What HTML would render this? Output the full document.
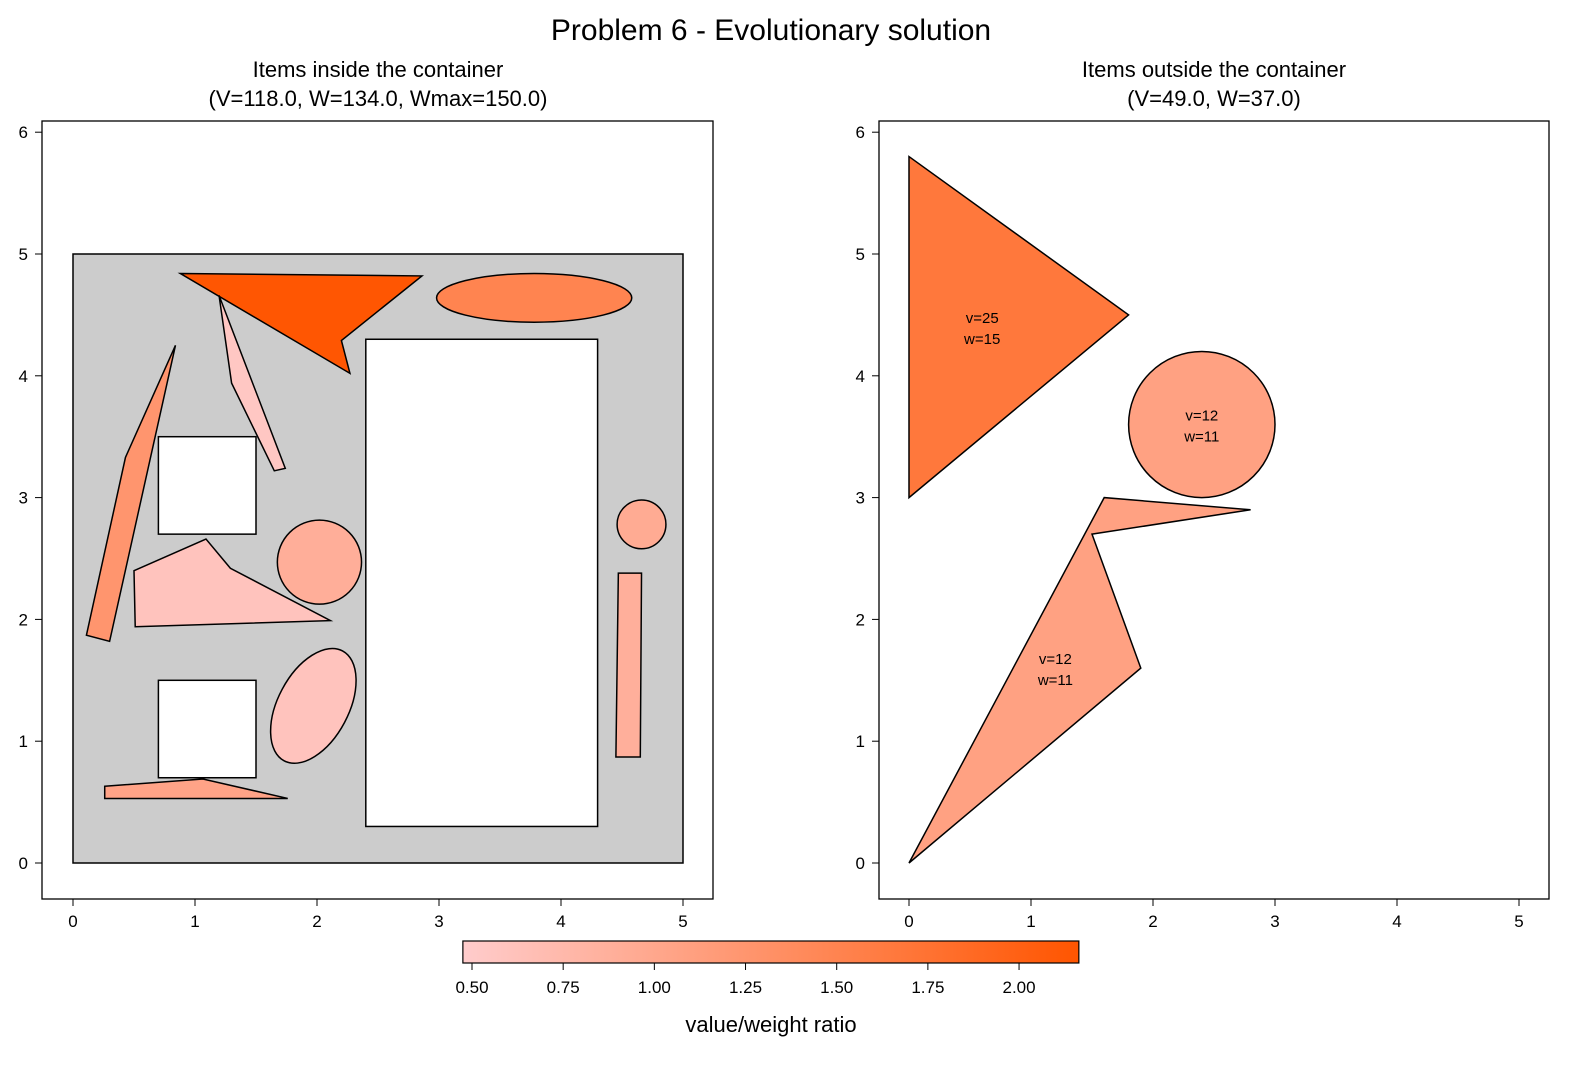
<!DOCTYPE html>
<html><head><meta charset="utf-8"><style>
body{margin:0;background:#fff;font-family:"Liberation Sans",sans-serif}
svg text{font-family:"Liberation Sans","DejaVu Sans",sans-serif;fill:#000}
</style></head><body>
<svg id="fig" width="1590" height="1067" xmlns="http://www.w3.org/2000/svg">
<text x="771" y="40" font-size="30" text-anchor="middle">Problem 6 - Evolutionary solution</text>
<text x="378" y="77" font-size="22" text-anchor="middle">Items inside the container</text>
<text x="378" y="106" font-size="22" text-anchor="middle">(V=118.0, W=134.0, Wmax=150.0)</text>
<text x="1214" y="77" font-size="22" text-anchor="middle">Items outside the container</text>
<text x="1214" y="106" font-size="22" text-anchor="middle">(V=49.0, W=37.0)</text>
<g id="L"></g>
<g id="R"></g>
<g id="CB"></g>
<text x="771" y="1032" font-size="22" text-anchor="middle">value/weight ratio</text>
</svg>
<script>
const ticks=[0,1,2,3,4,5,6];
const xticks=[0,1,2,3,4,5];
const cbTicks=[0.5,0.75,1.0,1.25,1.5,1.75,2.0];
const cbMin=0.475, cbMax=2.164;
const holes=[[0.7,2.7,0.8,0.8],[0.7,0.7,0.8,0.8],[2.4,0.3,1.9,4.0]];
const leftPolys=[
 {pts:[[0.88,4.84],[2.86,4.82],[2.2,4.29],[2.27,4.02]],r:2.15},
 {pts:[[1.197,4.66],[1.30,3.94],[1.65,3.22],[1.74,3.24]],r:0.55},
 {pts:[[0.84,4.25],[0.43,3.33],[0.11,1.87],[0.30,1.82]],r:1.25},
 {pts:[[0.5,2.4],[1.09,2.66],[1.29,2.42],[2.11,1.99],[0.51,1.94]],r:0.6},
 {pts:[[4.47,2.38],[4.66,2.38],[4.65,0.87],[4.45,0.87]],r:0.88},
 {pts:[[0.26,0.63],[1.065,0.69],[1.76,0.53],[0.26,0.53]],r:1.05}
];
const leftEll=[
 {cx:3.78,cy:4.64,rx:0.8,ry:0.2,rot:0,r:1.5},
 {cx:2.02,cy:2.47,rx:0.345,ry:0.345,rot:0,r:0.9},
 {cx:4.66,cy:2.78,rx:0.2,ry:0.2,rot:0,r:0.95},
 {cx:1.97,cy:1.29,rx:0.51,ry:0.29,rot:-62,r:0.6}
];
const rightPolys=[
 {pts:[[0,5.8],[1.8,4.5],[0,3.0]],r:25/15,lab:["v=25","w=15"],lx:0.6,ly:4.4},
 {pts:[[0,0],[1.6,3.0],[2.8,2.9],[1.5,2.7],[1.9,1.6]],r:12/11,lab:["v=12","w=11"],lx:1.2,ly:1.6}
];
const rightEll=[{cx:2.4,cy:3.6,rx:0.6,ry:0.6,rot:0,r:12/11,lab:["v=12","w=11"]}];

const NS="http://www.w3.org/2000/svg";
function mk(p,t,a){const e=document.createElementNS(NS,t);for(const k in a)e.setAttribute(k,a[k]);p.appendChild(e);return e;}
function col(r){let t=(r-cbMin)/(cbMax-cbMin);t=Math.max(0,Math.min(1,t));
 return `rgb(255,${Math.round(204-119*t)},${Math.round(204-204*t)})`;}
function axes(g,x0,box,name){
 const X=v=>x0+122*v, Y=v=>863-121.8*v;
 mk(g,'rect',{x:box[0],y:121,width:box[1]-box[0],height:778,fill:'#fff',stroke:'#000','stroke-width':1.3});
 xticks.forEach(v=>{const l=mk(g,'line',{x1:X(v),x2:X(v),y1:899,y2:906,stroke:'#000'});
  
  const t=mk(g,'text',{x:X(v),y:927,'font-size':17,'text-anchor':'middle'});t.textContent=v;
  });
 ticks.forEach(v=>{mk(g,'line',{x1:box[0]-7,x2:box[0],y1:Y(v),y2:Y(v),stroke:'#000'});
  const t=mk(g,'text',{x:box[0]-14,y:Y(v)+6,'font-size':17,'text-anchor':'end'});t.textContent=v;
  });
 return [X,Y];
}
function poly(g,X,Y,p){const e=mk(g,'polygon',{points:p.pts.map(q=>X(q[0])+','+Y(q[1])).join(' '),fill:col(p.r),stroke:'#000','stroke-width':1.5});
 }
function ell(g,X,Y,e){const el=mk(g,'ellipse',{cx:X(e.cx),cy:Y(e.cy),rx:122*e.rx,ry:121.8*e.ry,transform:`rotate(${e.rot} ${X(e.cx)} ${Y(e.cy)})`,fill:col(e.r),stroke:'#000','stroke-width':1.5});
 }
function lab(g,x,y,l){l.forEach((s,i)=>{const t=mk(g,'text',{x:x,y:y+i*21,'font-size':15,'text-anchor':'middle','font-family':'Liberation Serif'});t.textContent=s;
 });}

const L=document.getElementById('L');
let [X,Y]=axes(L,73,[42,713]);
const c=mk(L,'rect',{x:X(0),y:Y(5),width:122*5,height:121.8*5,fill:'#cccccc',stroke:'#000','stroke-width':1.5});

holes.forEach(h=>{const e=mk(L,'rect',{x:X(h[0]),y:Y(h[1]+h[3]),width:122*h[2],height:121.8*h[3],fill:'#fff',stroke:'#000','stroke-width':1.5});
 });
leftPolys.forEach(p=>poly(L,X,Y,p));
leftEll.forEach(e=>ell(L,X,Y,e));

const R=document.getElementById('R');
[X,Y]=axes(R,909,[879,1549]);
rightPolys.forEach(p=>{poly(R,X,Y,p);lab(R,X(p.lx),Y(p.ly)-4,p.lab);});
rightEll.forEach(e=>{ell(R,X,Y,e);lab(R,X(e.cx),Y(e.cy)-4,e.lab);});

const CB=document.getElementById('CB');
const CX=v=>472+364.7*(v-0.5);
const gr=mk(CB,'defs',{});const lg=mk(gr,'linearGradient',{id:'cg',x1:0,x2:1,y1:0,y2:0});
mk(lg,'stop',{offset:0,'stop-color':col(cbMin)});mk(lg,'stop',{offset:1,'stop-color':col(cbMax)});
mk(CB,'rect',{x:CX(cbMin),y:941,width:CX(cbMax)-CX(cbMin),height:22,fill:'url(#cg)',stroke:'#000','stroke-width':1.2});
cbTicks.forEach(v=>{mk(CB,'line',{x1:CX(v),x2:CX(v),y1:963,y2:970,stroke:'#000'});
 const t=mk(CB,'text',{x:CX(v),y:993,'font-size':17,'text-anchor':'middle'});t.textContent=v.toFixed(2);
 });
</script>
</body></html>
